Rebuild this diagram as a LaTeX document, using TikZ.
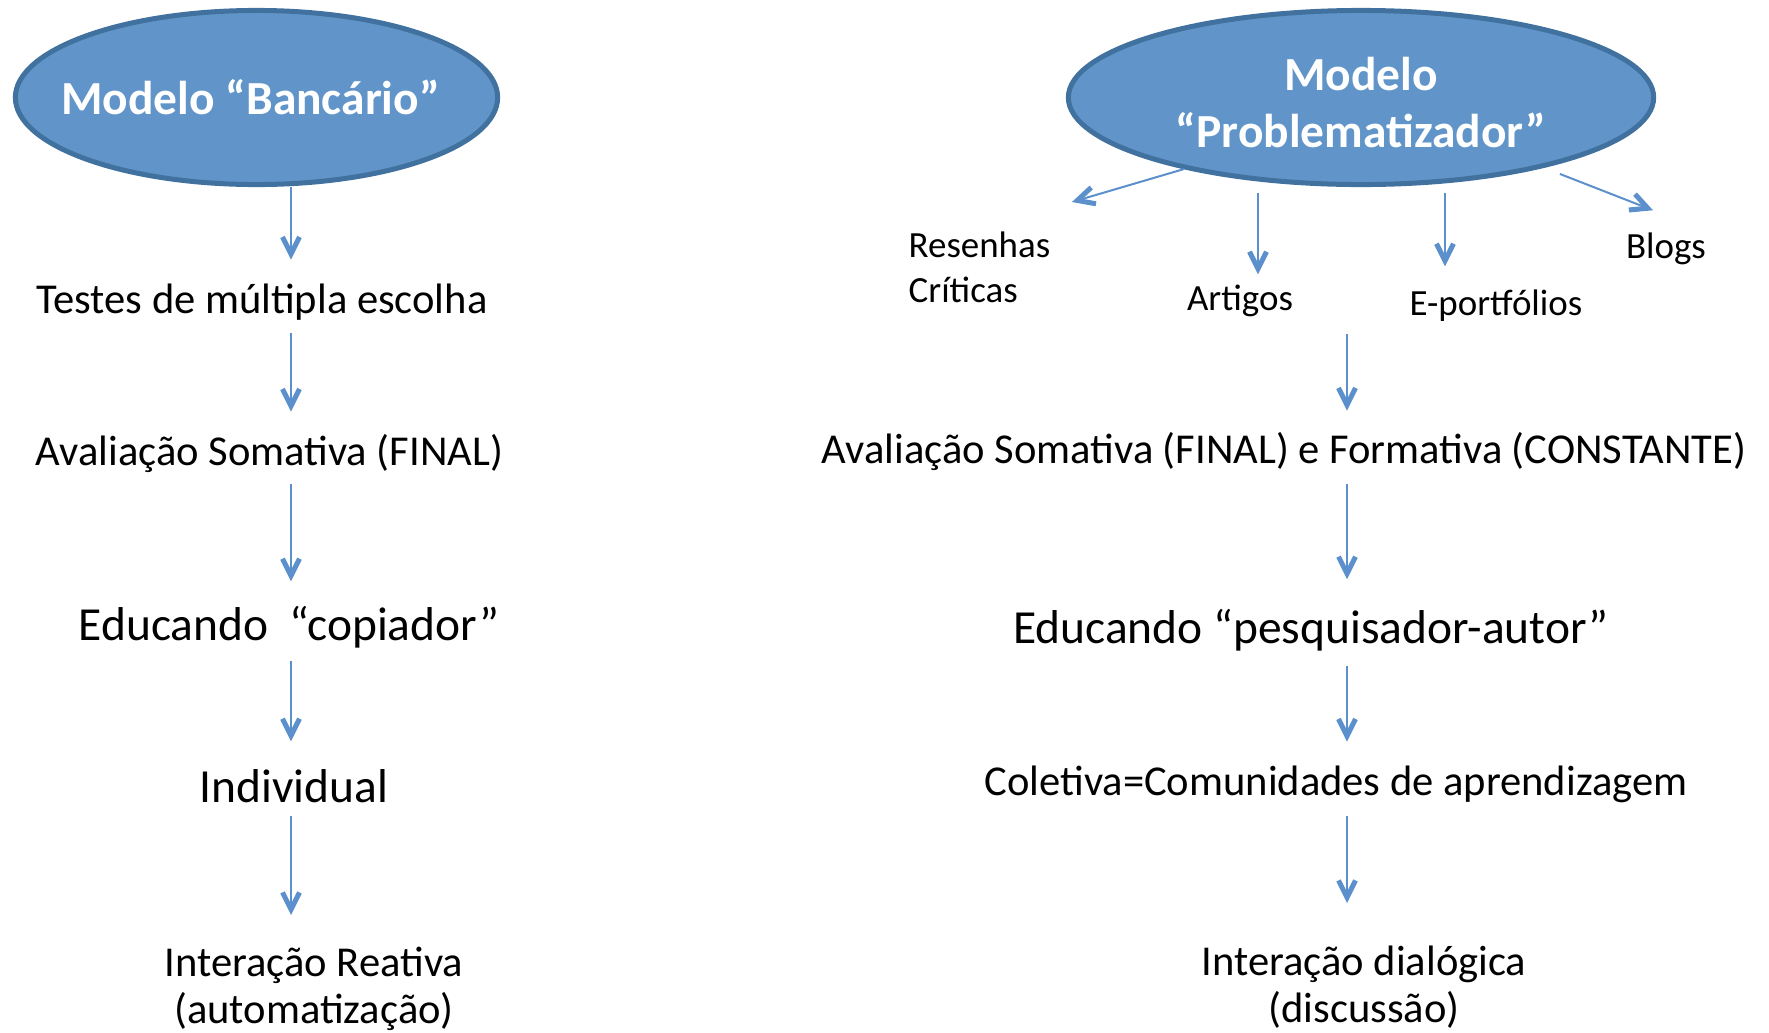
\documentclass[tikz,border=0pt]{standalone}
\usepackage{fontspec}
\setmainfont{Carlito}
\usetikzlibrary{shapes.geometric,arrows.meta}
\definecolor{azulfundo}{RGB}{97,149,201}
\definecolor{azulborda}{RGB}{65,113,158}
\definecolor{azulseta}{RGB}{91,144,205}

\begin{document}
    \begin{tikzpicture}[x=0.01cm,y=-0.01cm,
        modelo/.style={ellipse,fill=azulfundo,draw=azulborda,line width=0.05cm,text=white,align=center,inner sep=0pt,
            minimum height=1.74cm,font=\fontsize{13.5}{16.2}\selectfont\bfseries},
        texto/.style={inner sep=0pt,anchor=base,text height=2.77mm,text depth=0pt,font=\fontsize{12.1}{13.5}\selectfont},
        grande/.style={texto,text height=3.1mm,font=\fontsize{13.5}{16.2}\selectfont},
        pequeno/.style={inner sep=0pt,font=\fontsize{10.5}{12.8}\selectfont},
        miudo/.style={pequeno,anchor=base,text height=2.4mm,text depth=0pt},
        duas/.style={inner sep=0pt,anchor=north,align=center,font=\fontsize{12.1}{13.5}\selectfont},
        seta/.style={draw=azulseta,line width=0.02cm,-{Straight Barb[length=0.17cm,width=0.17cm,line width=0.05cm]}}]
        \useasboundingbox (0,0) rectangle (1769,1033);

        \node[modelo,minimum width=4.82cm,inner xsep=-0.6cm] (ban) at (256.5,97.5) {Modelo “Bancário”\kern0.12cm};
        \node[modelo,minimum width=5.85cm] (prob) at (1361,97.5) {\rule{0pt}{0.44cm}Modelo\\“Problematizador”};

        \node[texto] (tst) at (262,313) {Testes de múltipla escolha};
        \node[texto] (avA) at (269.5,465) {Avaliação Somativa (FINAL)};
        \node[grande] (edA) at (289,640) {Educando\ \ “copiador”};
        \node[grande] (ind) at (294,802) {Individual};
        \node[duas] (intA) at (314,946) {Interação Reativa\\(automatização)};

        \node[pequeno,anchor=north west,align=left] (res) at (908,231) {Resenhas\\Críticas};
        \node[miudo] (art) at (1240,310) {Artigos};
        \node[miudo] (epo) at (1496,315) {E-portfólios};
        \node[miudo] (blg) at (1666,258) {Blogs};
        \node[texto] (avB) at (1284,463) {Avaliação Somativa (FINAL) e Formativa (CONSTANTE)};
        \node[grande] (edB) at (1311,643) {Educando “pesquisador-autor”};
        \node[texto] (col) at (1336,795) {Coletiva=Comunidades de aprendizagem};
        \node[duas] (intB) at (1364,945) {Interação dialógica\\(discussão)};

        \coordinate (eixoA) at (291,0);
        \coordinate (eixoB) at (1347,0);
        \coordinate (pRes) at ([shift={(21,-29)}]res.north east);
        \coordinate (pArt) at ([shift={(18,-11)}]art.north);
        \coordinate (pEpo) at ([shift={(-51,-24)}]epo.north);
        \coordinate (pBlg) at ([shift={(-13,-23)}]blg.north);

        \foreach \de/\para/\ini/\fim in {ban/tst/0/2.5,tst/avA/1.9/2.5,avA/edA/1.8/2.7,edA/ind/2/2.9,ind/intA/1.3/3.1}
            \draw[seta,shorten <=\ini mm,shorten >=\fim mm] (\de.south -| eixoA) -- (\para.north -| eixoA);

        \foreach \de/\para/\ini/\fim in {epo/avB/1.8/2.4,avB/edB/2/3.2,edB/col/2.2/2.5,col/intB/2/4.2}
            \draw[seta,shorten <=\ini mm,shorten >=\fim mm] (\de.south -| eixoB) -- (\para.north -| eixoB);

        \draw[seta] (prob.202) -- (pRes);
        \foreach \p in {pArt,pEpo}
            \draw[seta,shorten <=0.6mm] (prob.south -| \p) -- (\p);
        \draw[seta,shorten <=1.7mm] (prob.339) -- (pBlg);
    \end{tikzpicture}
\end{document}
